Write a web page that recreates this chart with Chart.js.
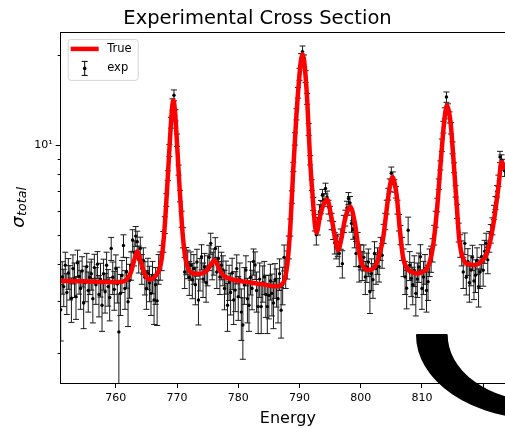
<!DOCTYPE html>
<html>
<head>
<meta charset="utf-8">
<script src="https://cdn.jsdelivr.net/npm/chart.js@4.4.1/dist/chart.umd.min.js"></script>
<style>
  html, body { margin: 0; padding: 0; background: #fff; width: 505px; height: 428px; overflow: hidden; }
  canvas { display: block; }
</style>
</head>
<body>
<canvas id="xs" width="576" height="428"></canvas>
<script>
// fitted ("True") curve
const trueEnergy = [
  751, 752, 753, 754, 755, 756, 757, 758, 759, 760, 761, 761.5, 762, 762.5, 763, 763.5,
  764, 764.5, 765, 765.5, 766, 766.5, 767, 767.5, 768, 768.5, 768.9, 769.15, 769.4, 769.65,
  769.9, 770.15, 770.4, 770.65, 770.9, 771.4, 771.9, 772.4, 773, 773.7, 774.5, 775, 775.5,
  776.1, 776.6, 777.1, 777.6, 778.4, 779, 780, 781, 782, 783, 784, 785, 786, 786.5, 787,
  787.5, 788, 788.5, 789, 789.5, 789.75, 790, 790.25, 790.5, 790.75, 791, 791.25, 791.5,
  791.75, 792, 792.25, 792.5, 792.8, 793.3, 793.9, 794.5, 795.2, 795.9, 796.3, 796.8, 797.4,
  797.9, 798.3, 799.05, 799.6, 800.15, 800.7, 801.3, 802, 802.6, 803.2, 803.7, 804.1, 804.5,
  804.85, 805.2, 805.55, 805.9, 806.4, 806.9, 807.8, 808.5, 809.4, 810.2, 811, 811.8, 812.5,
  813.05, 813.6, 813.85, 814.1, 814.4, 814.7, 815.2, 815.7, 816.1, 816.8, 817.7, 818.7,
  819.6, 820.6, 821.6, 822.5, 823, 823.6
];
const trueValue = [
  3.50, 3.50, 3.50, 3.49, 3.49, 3.48, 3.48, 3.47, 3.47, 3.47, 3.48, 3.51, 3.58, 3.76, 4.10, 4.40,
  4.12, 3.80, 3.60, 3.54, 3.56, 3.64, 3.78, 4.16, 5.38, 7.87, 10.9, 13.0, 14.15, 13.1,
  11.0, 8.9, 7.3, 6.04, 5.08, 4.13, 3.82, 3.72, 3.70, 3.70, 3.74, 3.82, 3.96,
  4.11, 3.96, 3.76, 3.64, 3.57, 3.54, 3.51, 3.48, 3.46, 3.43, 3.41, 3.38, 3.36, 3.36, 3.40,
  3.50, 3.95, 5.3, 8.4, 12.6, 14.9, 17.2, 19.3, 20.2, 19.3, 17.0, 14.3, 11.2,
  8.8, 7.4, 6.3, 5.45, 5.08, 5.7, 6.3, 6.57, 5.74, 4.8, 4.44, 4.8, 5.6,
  6.05, 6.21, 5.46, 4.56, 4.01, 3.85, 3.81, 3.85, 4.01, 4.4, 4.93, 5.75, 6.71,
  7.45, 7.83, 7.45, 6.71, 5.18, 4.22, 3.81, 3.74, 3.71, 3.76, 3.91, 4.56, 6.21,
  8.68, 11.8, 13.0, 13.6, 13.0, 11.8, 8.68, 6.21, 4.8, 4.12, 3.98, 3.96,
  4.05, 4.33, 5.32, 7.25, 8.79, 8.3
];

// measured points ("exp"), energy / value / one-sigma error
const expEnergy = [
  751, 751.25, 751.5, 751.75, 752, 752.25, 752.5, 752.75,
  753, 753.25, 753.5, 753.75, 754, 754.25, 754.5, 754.75,
  755, 755.25, 755.5, 755.75, 756, 756.25, 756.5, 756.75,
  757, 757.25, 757.5, 757.75, 758, 758.25, 758.5, 758.75,
  759, 759.25, 759.5, 759.75, 760, 760.25, 760.5, 760.75,
  761, 761.25, 761.5, 761.75, 762, 762.25, 762.5, 762.75,
  763, 763.25, 763.5, 763.75, 764, 764.25, 764.5, 764.75,
  765, 765.25, 765.5, 765.75, 766, 766.25, 766.5, 766.75,
  767, 767.25, 767.5, 767.75, 768, 768.25, 768.5, 768.75,
  769, 769.25, 769.5, 769.75, 770, 770.25, 770.5, 770.75,
  771, 771.25, 771.5, 771.75, 772, 772.25, 772.5, 772.75,
  773, 773.25, 773.5, 773.75, 774, 774.25, 774.5, 774.75,
  775, 775.25, 775.5, 775.75, 776, 776.25, 776.5, 776.75,
  777, 777.25, 777.5, 777.75, 778, 778.25, 778.5, 778.75,
  779, 779.25, 779.5, 779.75, 780, 780.25, 780.5, 780.75,
  781, 781.25, 781.5, 781.75, 782, 782.25, 782.5, 782.75,
  783, 783.25, 783.5, 783.75, 784, 784.25, 784.5, 784.75,
  785, 785.25, 785.5, 785.75, 786, 786.25, 786.5, 786.75,
  787, 787.25, 787.5, 787.75, 788, 788.25, 788.5, 788.75,
  789, 789.25, 789.5, 789.75, 790, 790.25, 790.5, 790.75,
  791, 791.25, 791.5, 791.75, 792, 792.25, 792.5, 792.75,
  793, 793.25, 793.5, 793.75, 794, 794.25, 794.5, 794.75,
  795, 795.25, 795.5, 795.75, 796, 796.25, 796.5, 796.75,
  797, 797.25, 797.5, 797.75, 798, 798.25, 798.5, 798.75,
  799, 799.25, 799.5, 799.75, 800, 800.25, 800.5, 800.75,
  801, 801.25, 801.5, 801.75, 802, 802.25, 802.5, 802.75,
  803, 803.25, 803.5, 803.75, 804, 804.25, 804.5, 804.75,
  805, 805.25, 805.5, 805.75, 806, 806.25, 806.5, 806.75,
  807, 807.25, 807.5, 807.75, 808, 808.25, 808.5, 808.75,
  809, 809.25, 809.5, 809.75, 810, 810.25, 810.5, 810.75,
  811, 811.25, 811.5, 811.75, 812, 812.25, 812.5, 812.75,
  813, 813.25, 813.5, 813.75, 814, 814.25, 814.5, 814.75,
  815, 815.25, 815.5, 815.75, 816, 816.25, 816.5, 816.75,
  817, 817.25, 817.5, 817.75, 818, 818.25, 818.5, 818.75,
  819, 819.25, 819.5, 819.75, 820, 820.25, 820.5, 820.75,
  821, 821.25, 821.5, 821.75, 822, 822.25, 822.5, 822.75,
  823, 823.25, 823.5
];
const expValue = [
  2.80, 3.61, 3.35, 3.95, 3.20, 3.72, 3.48, 3.06,
  3.85, 3.55, 3.10, 4.03, 3.62, 3.30, 3.78, 2.95,
  3.45, 3.91, 3.25, 3.60, 3.70, 3.05, 3.88, 3.40,
  3.98, 3.15, 3.55, 2.90, 3.70, 3.22, 3.95, 3.35,
  3.08, 4.50, 3.60, 3.28, 3.85, 3.42, 2.36, 3.18,
  3.65, 4.60, 3.30, 3.75, 2.98, 3.52, 3.95, 4.80,
  4.35, 4.95, 4.74, 4.15, 4.50, 3.85, 4.10, 3.60,
  3.30, 3.72, 3.45, 3.18, 3.62, 3.02, 3.40, 3.00,
  3.85, 3.95, 4.20, 4.75, 5.40, 6.55, 7.90, 9.60,
  11.9, 13.7, 14.7, 12.6, 10.4, 8.25, 6.75, 5.65,
  4.90, 3.75, 4.10, 4.00, 3.60, 3.95, 3.53, 3.85,
  3.40, 4.05, 3.02, 3.70, 4.22, 3.55, 3.90, 3.45,
  3.81, 4.20, 4.68, 3.95, 4.07, 4.50, 3.75, 4.16,
  3.61, 3.95, 3.81, 3.30, 3.62, 2.90, 3.48, 3.20,
  3.72, 3.02, 3.26, 3.85, 3.10, 3.55, 2.75, 2.49,
  3.40, 3.81, 3.05, 2.90, 3.60, 3.30, 4.07, 3.96,
  3.25, 2.87, 3.55, 2.87, 3.45, 3.61, 3.15, 2.87,
  3.13, 3.50, 3.18, 2.95, 3.53, 3.35, 3.05, 3.70,
  2.79, 3.40, 4.20, 3.75, 3.98, 4.55, 5.30, 6.70,
  8.45, 10.5, 12.7, 15.0, 17.3, 19.4, 20.6, 19.2,
  17.0, 14.3, 11.3, 8.9, 7.35, 6.35, 5.50, 5.00,
  5.35, 5.98, 6.20, 6.79, 6.55, 7.15, 6.70, 6.20,
  5.90, 5.55, 5.18, 4.70, 4.55, 4.62, 4.33, 4.85,
  4.00, 5.45, 5.70, 6.15, 6.62, 6.40, 5.46, 5.20,
  4.90, 4.33, 4.70, 3.91, 4.22, 3.95, 4.20, 3.61,
  3.90, 4.05, 3.22, 3.70, 3.53, 4.33, 3.85, 4.10,
  3.91, 4.50, 4.27, 5.05, 5.55, 6.20, 6.85, 7.35,
  8.04, 7.75, 7.30, 6.95, 6.20, 5.50, 5.00, 4.50,
  4.05, 3.61, 3.31, 5.18, 3.95, 3.57, 3.40, 3.80,
  3.18, 3.55, 3.90, 4.22, 3.30, 3.61, 3.85, 3.25,
  3.48, 4.05, 4.16, 4.45, 5.00, 5.65, 6.30, 7.40,
  8.55, 10.0, 11.5, 12.8, 14.5, 13.2, 12.4, 11.4,
  9.8, 8.4, 7.00, 6.00, 5.10, 4.60, 4.35, 3.75,
  4.68, 3.60, 4.07, 3.45, 3.81, 4.20, 3.50, 3.66,
  4.10, 3.35, 3.75, 4.22, 3.80, 4.40, 4.68, 4.12,
  4.75, 5.05, 5.35, 5.95, 6.40, 7.00, 7.60, 9.13,
  8.90, 8.60, 8.20
];
const expError = [
  .60, .45, .48, .42, .50, .44, .46, .52,
  .43, .47, .50, .41, .46, .49, .44, .53,
  .47, .42, .50, .45, .44, .52, .42, .48,
  .41, .50, .46, .53, .44, .49, .42, .47,
  .51, .40, .45, .49, .43, .47, .80, .50,
  .45, .40, .49, .44, .52, .46, .43, .40,
  .42, .38, .40, .43, .41, .44, .42, .46,
  .49, .45, .47, .50, .45, .52, .48, .52,
  .44, .43, .41, .38, .35, .32, .30, .45,
  .50, .60, .62, .55, .50, .32, .30, .35,
  .38, .45, .43, .44, .47, .43, .48, .44,
  .49, .42, .53, .46, .41, .47, .43, .48,
  .44, .41, .38, .42, .41, .39, .45, .41,
  .46, .42, .44, .50, .46, .53, .47, .51,
  .45, .52, .50, .43, .52, .47, .54, .58,
  .48, .44, .52, .53, .46, .50, .41, .42,
  .50, .54, .47, .54, .48, .46, .51, .54,
  .52, .48, .51, .53, .47, .49, .52, .45,
  .54, .49, .42, .45, .43, .40, .35, .32,
  .30, .50, .55, .62, .80, .88, .92, .88,
  .78, .60, .52, .32, .30, .32, .35, .38,
  .36, .33, .32, .31, .32, .30, .31, .33,
  .33, .35, .36, .39, .40, .40, .42, .38,
  .42, .36, .35, .33, .31, .32, .36, .37,
  .38, .42, .39, .44, .41, .44, .42, .46,
  .44, .43, .50, .45, .47, .41, .44, .42,
  .44, .40, .41, .37, .35, .33, .31, .35,
  .40, .38, .35, .31, .33, .35, .37, .40,
  .43, .46, .49, .55, .44, .47, .49, .45,
  .51, .47, .44, .41, .49, .46, .44, .50,
  .47, .43, .42, .40, .38, .35, .33, .30,
  .30, .48, .52, .55, .58, .56, .53, .50,
  .45, .32, .31, .33, .37, .40, .42, .45,
  .39, .46, .42, .48, .44, .41, .47, .46,
  .42, .49, .45, .41, .44, .39, .38, .42,
  .38, .36, .35, .33, .32, .31, .33, .40,
  .38, .36, .35
];

const xTicks = [760, 770, 780, 790, 800, 810, 820];
const yMajorTicks = [10];
const yMinorTicks = [2, 3, 4, 5, 6, 7, 8, 9, 20];

const FONT = "'DejaVu Sans', sans-serif";
Chart.defaults.font.family = FONT;
Chart.defaults.color = '#000';

// error bars, drawn under the points and the curve
const errorBars = {
  id: 'errorBars',
  beforeDatasetsDraw(chart) {
    const { ctx, chartArea: ca, scales: { x, y } } = chart;
    ctx.save();
    ctx.beginPath();
    ctx.rect(ca.left, ca.top, ca.width, ca.height);
    ctx.clip();
    ctx.strokeStyle = '#1a1a1a';
    ctx.lineWidth = 1;
    ctx.beginPath();
    expEnergy.forEach((e, i) => {
      const px = x.getPixelForValue(e);
      const hi = y.getPixelForValue(expValue[i] + expError[i]);
      const lo = y.getPixelForValue(expValue[i] - expError[i]);
      ctx.moveTo(px, hi); ctx.lineTo(px, lo);
      ctx.moveTo(px - 3, hi); ctx.lineTo(px + 3, hi);
      ctx.moveTo(px - 3, lo); ctx.lineTo(px + 3, lo);
    });
    ctx.stroke();
    ctx.restore();
  }
};

// top/right spines, minor log ticks, y label, legend, and the black arc
const decorations = {
  id: 'decorations',
  afterDraw(chart) {
    const { ctx, chartArea: ca, scales: { y } } = chart;
    ctx.save();
    ctx.strokeStyle = '#000';
    ctx.lineWidth = 1;
    ctx.beginPath();
    ctx.moveTo(ca.left, Math.round(ca.top) + 0.5);
    ctx.lineTo(ca.right, Math.round(ca.top) + 0.5);
    ctx.lineTo(ca.right, ca.bottom);
    ctx.stroke();

    ctx.beginPath();
    yMinorTicks.forEach(v => {
      const py = Math.round(y.getPixelForValue(v)) + 0.5;
      ctx.moveTo(ca.left - 3, py);
      ctx.lineTo(ca.left, py);
    });
    ctx.stroke();

    // sigma_total
    ctx.fillStyle = '#000';
    ctx.textBaseline = 'alphabetic';
    ctx.textAlign = 'left';
    const bigFont = 'italic 18px ' + FONT;
    const subFont = 'italic 12.6px ' + FONT;
    ctx.font = bigFont;
    const w1 = ctx.measureText('σ').width;
    ctx.font = subFont;
    const w2 = ctx.measureText('total').width;
    const cy = (ca.top + ca.bottom) / 2;
    ctx.translate(24, cy + (w1 + w2) / 2);
    ctx.rotate(-Math.PI / 2);
    ctx.font = bigFont;
    ctx.fillText('σ', 0, 0);
    ctx.font = subFont;
    ctx.fillText('total', w1 + 0.5, 2);
    ctx.setTransform(1, 0, 0, 1, 0, 0);

    // legend
    const lx = ca.left + 7, ly = ca.top + 6.5;
    ctx.beginPath();
    ctx.roundRect(lx + 0.5, ly + 0.5, 70, 41, 3);
    ctx.fillStyle = 'rgba(255,255,255,0.8)';
    ctx.fill();
    ctx.strokeStyle = '#d5d5d5';
    ctx.stroke();
    ctx.strokeStyle = '#ff0000';
    ctx.lineWidth = 4.5;
    ctx.beginPath();
    ctx.moveTo(lx + 3, ly + 10);
    ctx.lineTo(lx + 31, ly + 10);
    ctx.stroke();
    const sx = lx + 17, sy = ly + 29.5;
    ctx.strokeStyle = '#000';
    ctx.lineWidth = 1;
    ctx.beginPath();
    ctx.moveTo(sx, sy - 7); ctx.lineTo(sx, sy + 7);
    ctx.moveTo(sx - 3, sy - 7); ctx.lineTo(sx + 3, sy - 7);
    ctx.moveTo(sx - 3, sy + 7); ctx.lineTo(sx + 3, sy + 7);
    ctx.stroke();
    ctx.beginPath();
    ctx.arc(sx, sy, 1.8, 0, Math.PI * 2);
    ctx.fillStyle = '#000';
    ctx.fill();
    ctx.font = '11.5px ' + FONT;
    ctx.textBaseline = 'middle';
    ctx.fillText('True', lx + 39.5, ly + 10);
    ctx.fillText('exp', lx + 39.5, sy);

    // thick black arc in the lower right corner
    ctx.beginPath();
    ctx.ellipse(540, 335, 123, 83, 0, Math.PI, Math.PI / 2, true);
    ctx.ellipse(540, 335, 93.3, 67, 0, Math.PI / 2, Math.PI, false);
    ctx.closePath();
    ctx.fillStyle = '#000';
    ctx.strokeStyle = '#000';
    ctx.lineJoin = 'round';
    ctx.lineWidth = 2;
    ctx.fill();
    ctx.stroke();
    ctx.restore();
  }
};

new Chart(document.getElementById('xs'), {
  type: 'scatter',
  data: {
    datasets: [
      {
        type: 'line',
        label: 'True',
        data: trueEnergy.map((e, i) => ({ x: e, y: trueValue[i] })),
        borderColor: '#ff0000',
        borderWidth: 4.5,
        borderJoinStyle: 'round',
        pointRadius: 0,
        cubicInterpolationMode: 'monotone',
        fill: false,
        clip: 0,
        order: 0
      },
      {
        label: 'exp',
        data: expEnergy.map((e, i) => ({ x: e, y: expValue[i] })),
        pointRadius: 1.7,
        pointBackgroundColor: '#000',
        pointBorderWidth: 0,
        clip: 0,
        order: 1
      }
    ]
  },
  options: {
    responsive: false,
    animation: false,
    events: [],
    layout: { padding: { left: 0, right: 61, top: 0, bottom: 0 } },
    plugins: {
      legend: { display: false },
      tooltip: { enabled: false },
      title: {
        display: true,
        text: 'Experimental Cross Section',
        font: { size: 19.5, weight: 'normal' },
        color: '#000',
        padding: { top: 7.5, bottom: 1.5 }
      }
    },
    scales: {
      x: {
        type: 'linear',
        min: 751,
        max: 825.2,
        afterBuildTicks: s => { s.ticks = xTicks.map(v => ({ value: v })); },
        afterFit: s => { s.height = 45; },
        grid: { drawOnChartArea: false, tickLength: 5, tickColor: '#000', tickWidth: 1 },
        border: { color: '#000', width: 1 },
        ticks: { font: { size: 11 }, color: '#000', padding: 4, maxRotation: 0, autoSkip: false, callback: v => String(v) },
        title: { display: true, text: 'Energy', font: { size: 16 }, color: '#000', padding: { top: 0, bottom: 0 } }
      },
      y: {
        type: 'logarithmic',
        min: 1.59,
        max: 23.9,
        afterBuildTicks: s => { s.ticks = yMajorTicks.map(v => ({ value: v })); },
        afterFit: s => { s.width = 60.7; },
        grid: { drawOnChartArea: false, tickLength: 5, tickColor: '#000', tickWidth: 1 },
        border: { color: '#000', width: 1 },
        ticks: { font: { size: 11 }, color: '#000', padding: 3, callback: v => (v === 10 ? '10¹' : '') }
      }
    }
  },
  plugins: [errorBars, decorations]
});
</script>
</body>
</html>
